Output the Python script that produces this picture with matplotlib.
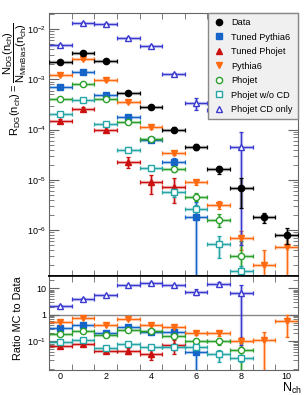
import numpy as np
import matplotlib
matplotlib.use('Agg')
import matplotlib.pyplot as plt
from matplotlib.lines import Line2D
from matplotlib.ticker import FixedLocator, FixedFormatter, LogLocator, NullFormatter

plt.rcParams['font.family'] = ['Liberation Sans', 'DejaVu Sans']
plt.rcParams['mathtext.default'] = 'regular'

# R_DG values per n_ch bin (bins start at n_ch = 0)
data_val = [2.2e-3, 3.3e-3, 2.3e-3, 5.3e-4, 2.8e-4, 1.0e-4, 4.5e-5, 1.6e-5, 6.7e-6, 1.8e-6, 8.0e-7]
data_err = [1.5e-4, 2e-4, 1.5e-4, 4e-5, 2.5e-5, 1.2e-5, 6e-6, 3e-6, 4e-6, 4e-7, 2.8e-7]

tuned_pythia6 = [7.2e-4, 1.4e-3, 4.8e-4, 1.8e-4, 6.2e-5, 2.3e-5, 1.8e-6]
tuned_pythia6_err = [3e-5, 6e-5, 2.5e-5, 1.2e-5, 5e-6, 4.5e-6, 1.75e-6]

tuned_phojet = [1.5e-4, 2.6e-4, 1.0e-4, 2.3e-5, 8.9e-6, 7.0e-6]
tuned_phojet_err = [1.2e-5, 2.5e-5, 1.2e-5, 5.5e-6, 3.7e-6, 3.6e-6]

pythia6 = [1.2e-3, 2.5e-3, 9.5e-4, 3.6e-4, 1.1e-4, 3.4e-5, 8.9e-6, 3.2e-6, 6.8e-7, 2.0e-7, 4.6e-7]
pythia6_err = [5e-5, 1e-4, 4e-5, 2e-5, 8e-6, 3e-6, 1.2e-6, 6e-7, 2.8e-7, 1.95e-7, 3.5e-7]

phojet = [4.0e-4, 8.2e-4, 4.0e-4, 1.4e-4, 6.5e-5, 1.6e-5, 4.6e-6, 1.6e-6, 3.0e-7]
phojet_err = [2e-5, 4e-5, 2e-5, 1e-5, 5e-6, 2e-6, 8e-7, 4.5e-7, 2.9e-7]

phojet_wocd = [2.0e-4, 3.8e-4, 1.3e-4, 4.0e-5, 1.7e-5, 5.8e-6, 2.6e-6, 5.2e-7, 1.5e-7]
phojet_wocd_err = [1.2e-5, 2.5e-5, 1e-5, 4e-6, 2e-6, 1.2e-6, 6e-7, 2.5e-7, 4e-8]

phojet_cd = [4.8e-3, 1.35e-2, 1.26e-2, 6.8e-3, 4.6e-3, 1.3e-3, 3.4e-4, 2.4e-4, 4.4e-5]
phojet_cd_err = [2e-4, 4e-4, 4e-4, 3e-4, 2e-4, 5e-5, 9e-5, 4e-5, 4.35e-5]

mc = [
    ("Tuned Pythia6", tuned_pythia6, tuned_pythia6_err, 's', '#1565c8', True),
    ("Tuned Phojet", tuned_phojet, tuned_phojet_err, '^', '#cc1010', True),
    ("Pythia6", pythia6, pythia6_err, 'v', '#ff6a10', True),
    ("Phojet", phojet, phojet_err, 'o', '#2ca02c', False),
    ("Phojet w/o CD", phojet_wocd, phojet_wocd_err, 's', '#25a5a5', False),
    ("Phojet CD only", phojet_cd, phojet_cd_err, '^', '#3a3ad0', False),
]

fig = plt.figure(figsize=(3.05, 3.95), dpi=100)
ax1 = fig.add_axes([0.161, 0.301, 0.816, 0.666])
ax2 = fig.add_axes([0.161, 0.063, 0.816, 0.238])

ms = 4.5


def draw(ax, x, y, yerr, mk, col, mfc, z=2):
    # light wide band underneath, then the thin bar with caps and the marker
    ax.errorbar(x, y, yerr=yerr, xerr=0.5, fmt='none', ecolor=col, elinewidth=2.4,
                alpha=0.3, zorder=z)
    ax.errorbar(x, y, yerr=yerr, xerr=0.5, fmt=mk, color=col, mfc=mfc, mec=col,
                ms=ms, capsize=1.5, elinewidth=0.9, capthick=0.9, zorder=z)


handles = [Line2D([], [], ls='none', marker='o', color='black', ms=ms)]
labels = ["Data"]
for label, vals, errs, mk, col, filled in mc:
    vals = np.array(vals)
    errs = np.array(errs)
    x = np.arange(len(vals))
    mfc = col if filled else 'white'
    draw(ax1, x, vals, errs, mk, col, mfc)
    ratio = vals / np.array(data_val[:len(vals)])
    draw(ax2, x, ratio, ratio * errs / vals, mk, col, mfc)
    handles.append(Line2D([], [], ls='none', marker=mk, color=col, mfc=mfc, mec=col, ms=ms))
    labels.append(label)

draw(ax1, np.arange(len(data_val)), data_val, data_err, 'o', 'black', 'black', z=5)

ax2.axhline(1, color='#888888', lw=1, zorder=0)

for ax in (ax1, ax2):
    ax.set_xlim(-0.5, 10.5)
    ax.set_yscale('log')
    ax.xaxis.set_major_locator(FixedLocator([0, 2, 4, 6, 8, 10]))
    ax.xaxis.set_minor_locator(FixedLocator(np.arange(-0.5, 10.6, 1)))
    ax.yaxis.set_minor_formatter(NullFormatter())
    ax.tick_params(which='both', direction='in', top=True, right=True,
                   color='#666666', labelsize=6.5, pad=2)
    ax.tick_params(axis='x', which='major', length=0, pad=1.5)
    ax.tick_params(axis='x', which='minor', length=4)
    ax.tick_params(axis='y', which='major', length=7)
    ax.tick_params(axis='y', which='minor', length=3.5)
    for s in ax.spines.values():
        s.set_color('#666666')

ax1.set_ylim(1.2e-7, 2.1e-2)
ax1.yaxis.set_major_locator(FixedLocator([1e-6, 1e-5, 1e-4, 1e-3, 1e-2]))
ax1.tick_params(labelbottom=False)
ax1.spines['bottom'].set_color('black')
ax1.spines['bottom'].set_linewidth(1.2)

ax2.set_ylim(0.008, 29)
ax2.yaxis.set_major_locator(FixedLocator([0.1, 1, 10]))
ax2.yaxis.set_major_formatter(FixedFormatter(['$10^{-1}$', '1', '10']))
ax2.yaxis.set_minor_locator(LogLocator(base=10, subs=np.arange(2, 10)))
ax2.spines['top'].set_color('black')
ax2.spines['top'].set_linewidth(1.2)

leg = ax1.legend(handles, labels, loc='upper right', fontsize=6.6, frameon=True,
                 fancybox=False, facecolor='#f0f0f0', edgecolor='#888888', framealpha=1,
                 borderaxespad=0, handletextpad=0.7, labelspacing=0.6, borderpad=0.55,
                 handlelength=1.3)
leg.set_zorder(10)

fig.text(0.05, 0.80, r'$R_{DG}(n_{ch}) = \dfrac{N_{DG}(n_{ch})}{N_{MinBias}(n_{ch})}$',
         rotation=90, ha='center', va='center', fontsize=8)
fig.text(0.06, 0.195, 'Ratio MC to Data', rotation=90, ha='center', va='center', fontsize=7.8)
fig.text(0.99, 0.008, '$N_{ch}$', ha='right', va='baseline', fontsize=9)

fig.savefig('out.png', dpi=100)
